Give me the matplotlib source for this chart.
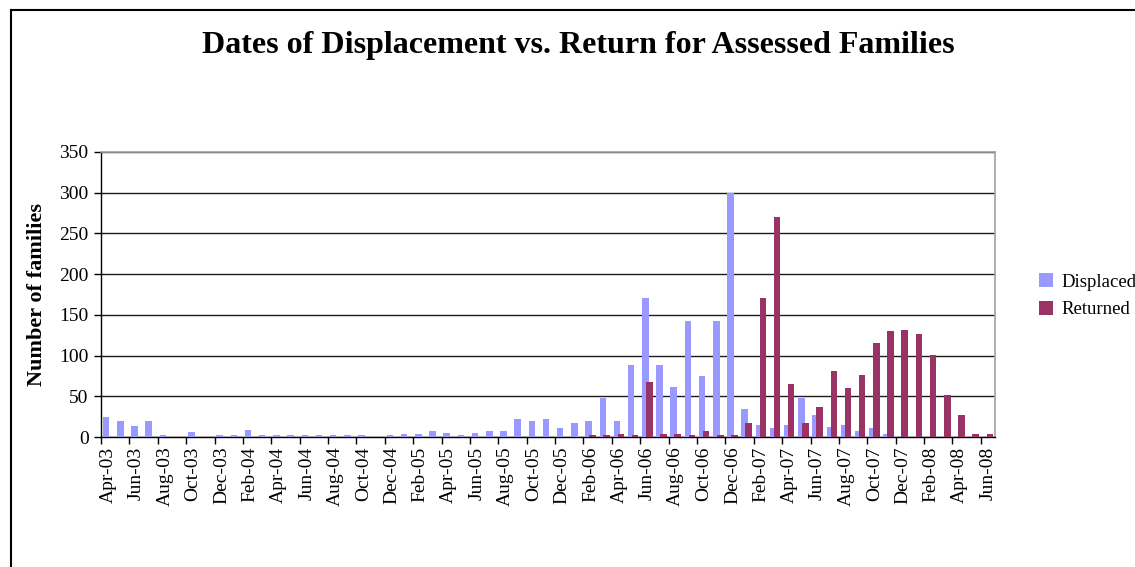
import matplotlib
matplotlib.use("Agg")
import matplotlib.pyplot as plt
import numpy as np
from matplotlib.lines import Line2D

months = ["Apr-03","May-03","Jun-03","Jul-03","Aug-03","Sep-03","Oct-03","Nov-03","Dec-03",
          "Jan-04","Feb-04","Mar-04","Apr-04","May-04","Jun-04","Jul-04","Aug-04","Sep-04",
          "Oct-04","Nov-04","Dec-04","Jan-05","Feb-05","Mar-05","Apr-05","May-05","Jun-05",
          "Jul-05","Aug-05","Sep-05","Oct-05","Nov-05","Dec-05","Jan-06","Feb-06","Mar-06",
          "Apr-06","May-06","Jun-06","Jul-06","Aug-06","Sep-06","Oct-06","Nov-06","Dec-06",
          "Jan-07","Feb-07","Mar-07","Apr-07","May-07","Jun-07","Jul-07","Aug-07","Sep-07",
          "Oct-07","Nov-07","Dec-07","Jan-08","Feb-08","Mar-08","Apr-08","May-08","Jun-08"]

displaced = [24, 20, 14, 20, 2, 0, 6, 0, 2,
             2, 9, 2, 2, 2, 2, 2, 2, 2,
             2, 0, 2, 4, 4, 7, 5, 2, 5,
             7, 7, 22, 20, 22, 11, 17, 20, 48,
             20, 88, 171, 88, 61, 142, 75, 143, 300,
             35, 15, 11, 15, 48, 27, 12, 15, 7,
             11, 4, 0, 0, 0, 0, 0, 0, 0]

returned = [0, 0, 0, 0, 0, 0, 0, 0, 0,
            0, 0, 0, 0, 0, 0, 0, 0, 0,
            0, 0, 0, 0, 0, 0, 0, 0, 0,
            0, 0, 0, 0, 0, 0, 0, 2, 2,
            4, 2, 68, 4, 4, 2, 7, 2, 2,
            17, 171, 270, 65, 17, 37, 81, 60, 76,
            116, 130, 131, 127, 101, 51, 27, 4, 4]

yticks = [0, 50, 100, 150, 200, 250, 300, 350]

BLUE = "#9999FF"
RED = "#993366"
SERIF = ["Liberation Serif", "DejaVu Serif"]

plt.rcParams["font.family"] = SERIF

fig = plt.figure(figsize=(11.35, 5.67), dpi=100)
ax = fig.add_axes([101/1135, 1 - 437/567, 894/1135, 285/567])

x = np.arange(len(months))
w = 0.46
ax.bar(x - 0.14, displaced, width=w, color=BLUE, label="Displaced", zorder=3)
ax.bar(x + 0.14, returned, width=w, color=RED, label="Returned", zorder=4)

ax.set_xlim(-0.5, len(months) - 0.5)
ax.set_ylim(0, 350)
ax.set_yticks(yticks)
ax.yaxis.grid(True, color="#1a1a1a", linewidth=1.0, zorder=0)
ax.set_axisbelow(True)

ax.set_xticks(x[::2])
ax.set_xticklabels(months[::2], rotation=90, fontsize=14)
ax.tick_params(axis="x", which="major", length=0, pad=7)
ax.set_xticks(np.arange(-0.5, len(months), 2), minor=True)
ax.tick_params(axis="x", which="minor", length=5, width=1, color="black", direction="out")
ax.tick_params(axis="y", length=5, width=1, direction="out", labelsize=14, pad=4)

for s in ["top", "right"]:
    ax.spines[s].set_color("#a0a0a0")
    ax.spines[s].set_linewidth(1.2)
for s in ["left", "bottom"]:
    ax.spines[s].set_color("black")
    ax.spines[s].set_linewidth(1.0)

ax.set_ylabel("Number of families", fontsize=16, fontweight="bold", labelpad=9)

fig.text(578/1135, 1 - 45/567, "Dates of Displacement vs. Return for Assessed Families",
         ha="center", va="center", fontsize=23, fontweight="bold")

leg = fig.legend(loc="upper left", bbox_to_anchor=(1030/1135, 1 - 264/567),
                 frameon=False, fontsize=13.5, handlelength=0.75, handleheight=0.75,
                 handletextpad=0.45, labelspacing=0.55, borderpad=0)

# chart area border
fig.add_artist(Line2D([11/1135, 1.0], [1 - 10/567, 1 - 10/567], transform=fig.transFigure,
                      color="black", linewidth=1.5))
fig.add_artist(Line2D([11/1135, 11/1135], [1 - 10/567, 0.0], transform=fig.transFigure,
                      color="black", linewidth=1.5))

fig.savefig("out.png", dpi=100)
